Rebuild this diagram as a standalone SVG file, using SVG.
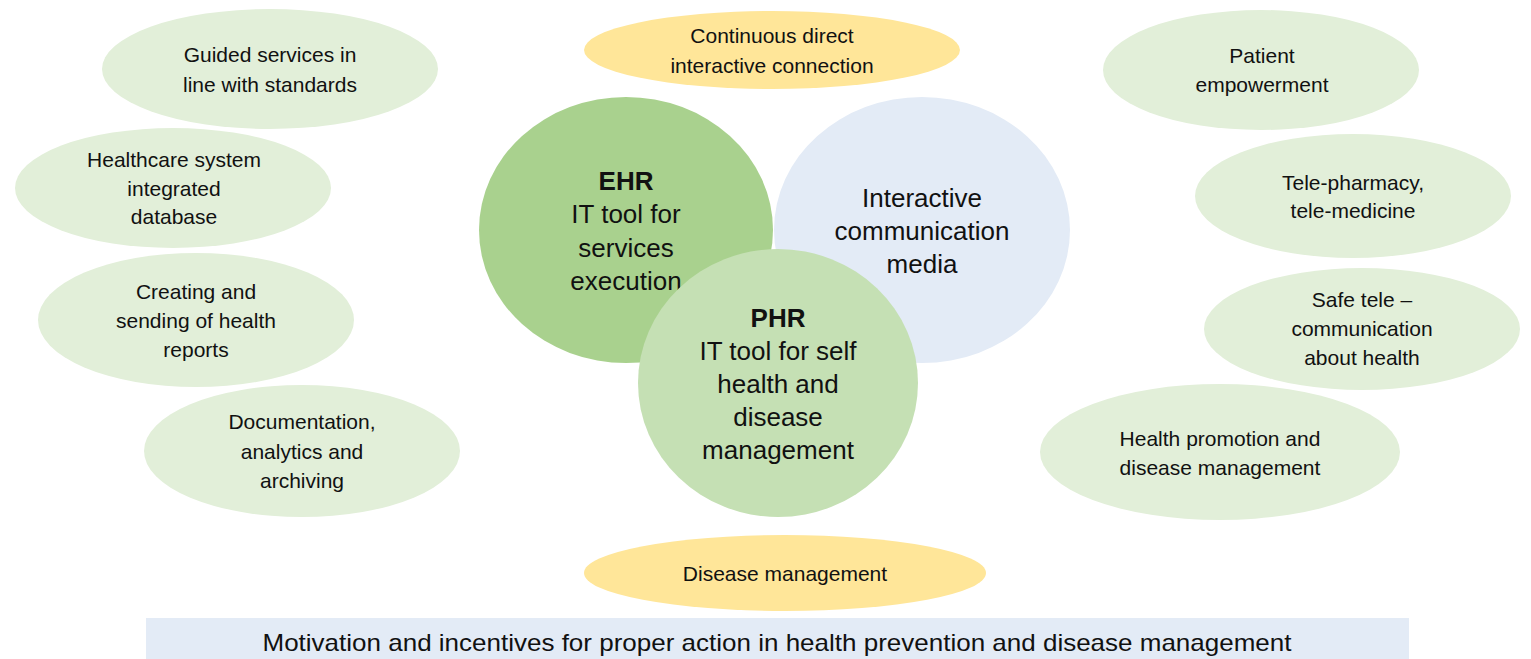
<svg xmlns="http://www.w3.org/2000/svg" width="1531" height="659" viewBox="0 0 1531 659">
<style>
.o{fill:#e2efd9}
.y{fill:#ffe699}
text{font-family:"Liberation Sans",Arial,sans-serif;fill:#111111;text-anchor:middle}
.s{font-size:21px}
.c{font-size:26px}
.b{font-weight:bold}
</style>
<rect width="1531" height="659" fill="#ffffff"/>
<g id="guided"><ellipse class="o" cx="270" cy="69" rx="168" ry="60"/><text class="s" x="270" y="62">Guided services in</text><text class="s" x="270" y="92">line with standards</text></g>
<g id="healthcare"><ellipse class="o" cx="173" cy="188" rx="158" ry="60"/><text class="s" x="174" y="167">Healthcare system</text><text class="s" x="174" y="196">integrated</text><text class="s" x="174" y="224">database</text></g>
<g id="creating"><ellipse class="o" cx="196" cy="320" rx="158" ry="67"/><text class="s" x="196" y="299">Creating and</text><text class="s" x="196" y="328">sending of health</text><text class="s" x="196" y="357">reports</text></g>
<g id="documentation"><ellipse class="o" cx="302" cy="451" rx="158" ry="66"/><text class="s" x="302" y="429">Documentation,</text><text class="s" x="302" y="459">analytics and</text><text class="s" x="302" y="488">archiving</text></g>
<g id="continuous"><ellipse class="y" cx="772" cy="50" rx="188" ry="39"/><text class="s" x="772" y="43">Continuous direct</text><text class="s" x="772" y="73">interactive connection</text></g>
<g id="ehr"><ellipse fill="#a9d18e" cx="626" cy="230" rx="147" ry="133"/><text class="c b" x="626" y="190">EHR</text><text class="c" x="626" y="223">IT tool for</text><text class="c" x="626" y="257">services</text><text class="c" x="626" y="290">execution</text></g>
<g id="interactive"><ellipse fill="#e3ebf6" cx="922" cy="230" rx="148" ry="133"/><text class="c" x="922" y="207">Interactive</text><text class="c" x="922" y="240">communication</text><text class="c" x="922" y="273">media</text></g>
<g id="phr"><ellipse fill="#c5e0b4" cx="778" cy="383" rx="140" ry="134"/><text class="c b" x="778" y="327">PHR</text><text class="c" x="778" y="360">IT tool for self</text><text class="c" x="778" y="393">health and</text><text class="c" x="778" y="426">disease</text><text class="c" x="778" y="459">management</text></g>
<g id="disease"><ellipse class="y" cx="785" cy="573" rx="201" ry="38"/><text class="s" x="785" y="581">Disease management</text></g>
<g id="patient"><ellipse class="o" cx="1261" cy="70" rx="158" ry="60"/><text class="s" x="1262" y="63">Patient</text><text class="s" x="1262" y="92">empowerment</text></g>
<g id="telepharmacy"><ellipse class="o" cx="1353" cy="196" rx="158" ry="62"/><text class="s" x="1353" y="190">Tele-pharmacy,</text><text class="s" x="1353" y="218">tele-medicine</text></g>
<g id="safetele"><ellipse class="o" cx="1362" cy="329" rx="158" ry="61"/><text class="s" x="1362" y="307">Safe tele –</text><text class="s" x="1362" y="336">communication</text><text class="s" x="1362" y="365">about health</text></g>
<g id="promotion"><ellipse class="o" cx="1220" cy="452" rx="180" ry="68"/><text class="s" x="1220" y="446">Health promotion and</text><text class="s" x="1220" y="475">disease management</text></g>
<g id="banner"><rect x="146" y="618" width="1263" height="41" fill="#e3ebf6"/><text x="777" y="651" font-size="24" textLength="1029" lengthAdjust="spacingAndGlyphs">Motivation and incentives for proper action in health prevention and disease management</text></g>
<g id="connectors"></g>
</svg>
